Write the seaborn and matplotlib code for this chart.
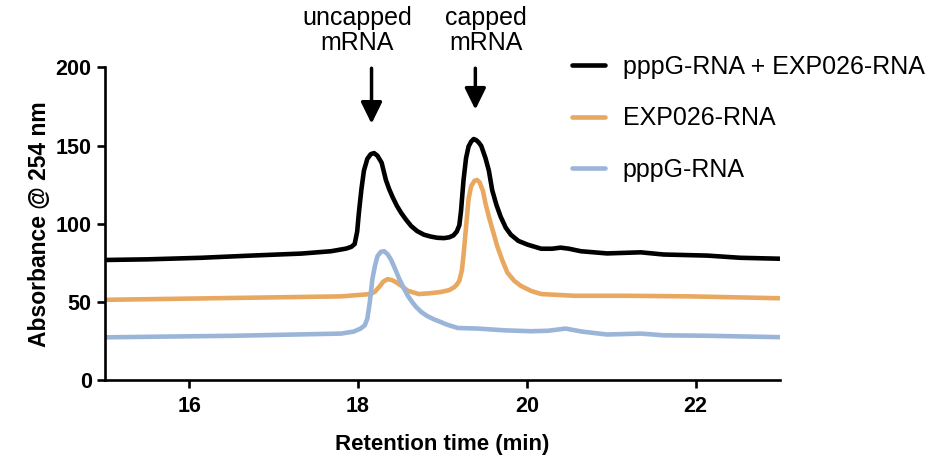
import matplotlib
matplotlib.use("Agg")
import matplotlib.pyplot as plt
import seaborn as sns
import pandas as pd

# ---- data ----
series_names = ["pppG-RNA + EXP026-RNA", "EXP026-RNA", "pppG-RNA"]

black_t = [15.0, 15.5, 16.14, 16.73, 17.33, 17.68, 17.86, 17.92, 17.96, 17.99, 18.01, 18.04,
           18.07, 18.11, 18.15, 18.19, 18.23, 18.28, 18.33, 18.37, 18.41, 18.46, 18.51, 18.57,
           18.63, 18.7, 18.78, 18.86, 18.94, 19.02, 19.08, 19.13, 19.17, 19.2, 19.22, 19.25,
           19.28, 19.31, 19.34, 19.37, 19.4, 19.43, 19.46, 19.51, 19.55, 19.59, 19.64, 19.69,
           19.75, 19.81, 19.9, 20.01, 20.17, 20.3, 20.4, 20.5, 20.64, 20.95, 21.35, 21.62,
           22.14, 22.53, 23.0]
black_v = [76.8, 77.2, 78.2, 79.6, 80.9, 82.4, 84.1, 85.2, 87.0, 95.0, 107.0, 122.0,
           134.0, 141.5, 144.5, 145.2, 143.5, 139.0, 128.0, 122.0, 117.0, 111.5, 107.0, 102.5,
           98.5, 95.3, 93.0, 91.8, 91.0, 90.8, 91.3, 92.5, 95.0, 99.0, 108.0, 128.0,
           142.0, 149.5, 152.5, 154.2, 153.5, 152.0, 149.8, 142.0, 134.0, 121.4, 112.0, 104.5,
           97.5, 93.0, 89.0, 86.6, 84.0, 84.0, 84.7, 84.0, 82.4, 81.0, 81.7, 80.3,
           79.6, 78.2, 77.6]

orange_t = [15.0, 16.53, 17.8, 18.15, 18.2, 18.25, 18.3, 18.35, 18.4, 18.45, 18.52, 18.59,
            18.72, 18.85, 18.98, 19.08, 19.14, 19.17, 19.2, 19.23, 19.25, 19.28, 19.31, 19.34,
            19.38, 19.41, 19.44, 19.48, 19.51, 19.55, 19.6, 19.65, 19.71, 19.77, 19.85, 19.93,
            20.05, 20.17, 20.56, 21.15, 21.94, 23.0]
orange_v = [51.3, 52.5, 53.5, 55.0, 56.5, 59.5, 63.0, 64.5, 64.0, 62.6, 60.0, 57.1,
            55.0, 55.5, 56.3, 57.5, 59.4, 61.0, 63.5, 70.0, 80.0, 98.0, 116.0, 124.0,
            127.5, 128.0, 126.5, 121.0, 113.0, 104.5, 95.0, 85.5, 76.5, 68.7, 63.5, 60.2,
            57.0, 55.0, 53.9, 53.9, 53.5, 52.3]

blue_t = [15.0, 16.53, 17.8, 17.95, 18.03, 18.08, 18.11, 18.14, 18.17, 18.2, 18.23, 18.27,
          18.31, 18.35, 18.39, 18.44, 18.49, 18.54, 18.59, 18.64, 18.69, 18.75, 18.82, 18.9,
          18.98, 19.05, 19.18, 19.42, 19.73, 20.05, 20.25, 20.46, 20.65, 20.95, 21.35, 21.62,
          22.14, 23.0]
blue_v = [27.3, 28.3, 29.7, 31.0, 32.9, 35.0, 39.2, 50.0, 64.5, 73.0, 79.2, 82.0,
          82.4, 80.5, 77.1, 71.0, 64.5, 59.0, 53.9, 50.0, 46.6, 43.5, 40.9, 38.8,
          37.1, 35.5, 33.3, 32.9, 31.8, 31.2, 31.5, 32.9, 31.0, 29.1, 29.7, 28.6,
          28.3, 27.4]

x_ticks = [16, 18, 20, 22]
y_ticks = [0, 50, 100, 150, 200]
colors = ["#000000", "#E9A860", "#9BB5D9"]

# ---- build long-form table ----
frames = []
for name, t, v in zip(series_names, [black_t, orange_t, blue_t], [black_v, orange_v, blue_v]):
    frames.append(pd.DataFrame({"time": t, "abs": v, "series": name}))
df = pd.concat(frames, ignore_index=True)

sns.set_style("white")
plt.rcParams["font.family"] = ["Liberation Sans", "DejaVu Sans"]
plt.rcParams["text.color"] = "black"
plt.rcParams["axes.labelcolor"] = "black"
plt.rcParams["xtick.color"] = "black"
plt.rcParams["ytick.color"] = "black"

fig = plt.figure(figsize=(9.53, 4.62), dpi=100)
ax = fig.add_axes([0.110, 0.1775, 0.7085, 0.6765])

sns.lineplot(data=df, x="time", y="abs", hue="series", hue_order=series_names,
             palette=colors, estimator=None, sort=True, linewidth=3.3, ax=ax)
for ln in ax.lines:
    ln.set_solid_joinstyle("round")
    ln.set_solid_capstyle("round")

ax.set_xlim(15, 23)
ax.set_ylim(0, 200)
ax.set_xticks(x_ticks)
ax.set_yticks(y_ticks)
for s in ["top", "right"]:
    ax.spines[s].set_visible(False)
for s in ["left", "bottom"]:
    ax.spines[s].set_linewidth(1.9)
    ax.spines[s].set_color("black")
ax.tick_params(axis="both", direction="out", length=5.5, width=1.9, color="black",
               labelcolor="black", labelsize=15.5, bottom=True, left=True)
ax.tick_params(axis="x", pad=6)
ax.tick_params(axis="y", pad=4)
for lab in ax.get_xticklabels() + ax.get_yticklabels():
    lab.set_fontweight("bold")

ax.set_xlabel("Retention time (min)", fontsize=16, fontweight="bold", labelpad=12,
              color="black")
ax.set_ylabel("Absorbance @ 254 nm", fontsize=16.5, fontweight="bold", labelpad=3,
              color="black")

# legend
handles, labels = ax.get_legend_handles_labels()
leg = ax.legend(handles, labels, loc="upper left", bbox_to_anchor=(0.600, 0.881),
                bbox_transform=fig.transFigure, frameon=False, fontsize=18,
                borderpad=0, borderaxespad=0, handlelength=1.32, handletextpad=0.72,
                labelspacing=1.1)
for txt in leg.get_texts():
    txt.set_color("black")

# annotations with arrows
arrow_kw = dict(arrowstyle="-|>,head_length=0.65,head_width=0.32", color="black",
                lw=2.5, mutation_scale=20, shrinkA=0, shrinkB=0)
ax.annotate("", xy=(18.16, 164), xytext=(18.16, 199.5), arrowprops=arrow_kw,
            annotation_clip=False)
ax.annotate("", xy=(19.39, 173), xytext=(19.39, 199.5), arrowprops=arrow_kw,
            annotation_clip=False)
fig.text(357 / 953, 1 - 6 / 462, "uncapped\nmRNA", ha="center", va="top",
         fontsize=18, linespacing=1.05, color="black")
fig.text(486 / 953, 1 - 6 / 462, "capped\nmRNA", ha="center", va="top",
         fontsize=18, linespacing=1.05, color="black")

fig.savefig("out.png", dpi=100)
